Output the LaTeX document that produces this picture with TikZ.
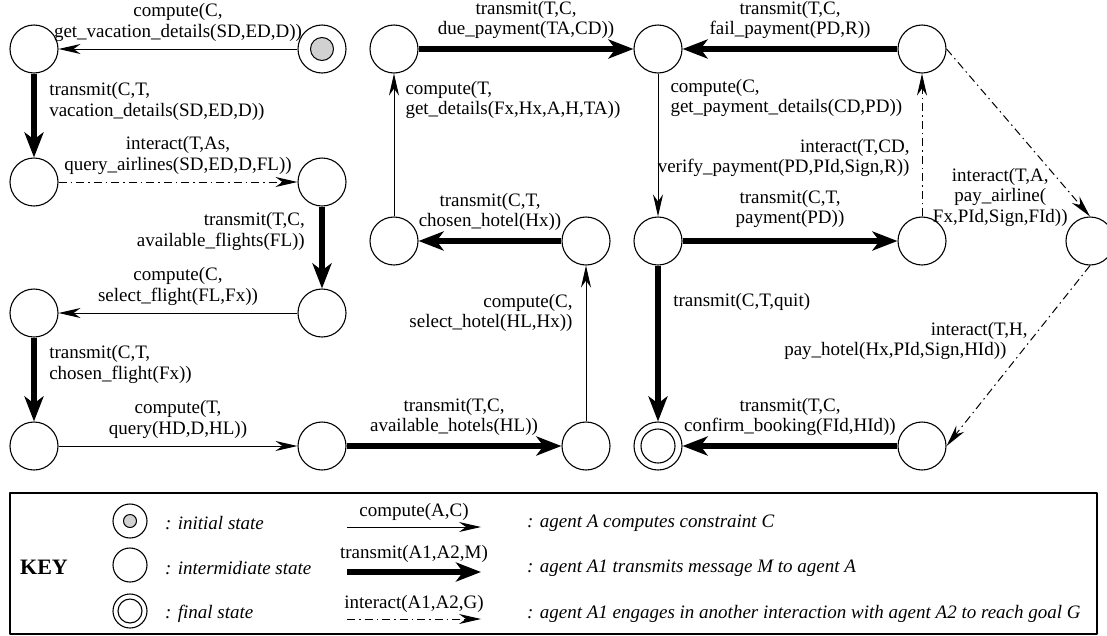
\documentclass[tikz,border=0pt]{standalone}
\usepackage{fontspec}
\setmainfont{Liberation Serif}
\usetikzlibrary{arrows.meta}
\begin{document}
\begin{tikzpicture}[x=1pt,y=-1pt,line join=round,
    font=\fontsize{19}{20.5}\selectfont,
    state/.style={draw,circle,minimum size=48pt,inner sep=0pt,line width=1.1pt},
    keystate/.style={state,minimum size=34pt},
    lbl/.style={inner sep=0pt,align=center},
    keytext/.style={anchor=west,inner sep=0pt,font=\fontsize{19}{20.5}\selectfont\itshape},
    comp/.style={line width=1pt,-{Stealth[length=22pt,width=10pt,inset=7pt]}},
    trans/.style={line width=6.5pt,-{Stealth[length=25pt,width=19pt,inset=7pt]}},
    inter/.style={line width=1pt,dash pattern=on 8pt off 4pt on 1.5pt off 4pt,
      -{Stealth[length=22pt,width=10pt,inset=7pt]}}]
\useasboundingbox (0,0) rectangle (1107,635);
% states
\node[state] (A0) at (34,49) {};
\node[state] (I) at (322,49) {};
\draw[fill=black!18,line width=1pt] (I) circle[radius=11.5pt];
\node[state] (A1) at (34,182) {};
\node[state] (A2) at (322,182) {};
\node[state] (B1) at (34,313) {};
\node[state] (B2) at (322,313) {};
\node[state] (C1) at (34,446) {};
\node[state] (C2) at (322,446) {};
\node[state] (C3) at (586,446) {};
\node[state] (H1) at (394,49) {};
\node[state] (H2) at (394,241) {};
\node[state] (H3) at (586,241) {};
\node[state] (P0) at (658,49) {};
\node[state] (F) at (922,49) {};
\node[state] (P1) at (658,241) {};
\node[state] (P2) at (922,241) {};
\node[state] (AIR) at (1090,241) {};
\node[state] (HOT) at (922,446) {};
\node[state] (FIN) at (658,446) {};
\draw[line width=1.1pt] (FIN) circle[radius=17pt];
% flights
\draw[comp] (I) -- (A0) node[lbl,midway,above=7pt] {compute(C,\\get\_vacation\_details(SD,ED,D))};
\draw[trans] (A0) -- (A1) node[lbl,align=left,pos=0,anchor=north west,xshift=12pt,yshift=-6pt] {transmit(C,T,\\vacation\_details(SD,ED,D))};
\draw[inter] (A1) -- (A2) node[lbl,midway,above=7pt] {interact(T,As,\\query\_airlines(SD,ED,D,FL))};
\draw[trans] (A2) -- (B2) node[lbl,align=right,pos=0,anchor=north east,xshift=-14pt,yshift=-3pt] {transmit(T,C,\\available\_flights(FL))};
\draw[comp] (B2) -- (B1) node[lbl,midway,above=7pt] {compute(C,\\select\_flight(FL,Fx))};
\draw[trans] (B1) -- (C1) node[lbl,align=left,pos=0,anchor=north west,xshift=12pt,yshift=-5pt] {transmit(C,T,\\chosen\_flight(Fx))};
\draw[comp] (C1) -- (C2) node[lbl,midway,above=7pt] {compute(T,\\query(HD,D,HL))};
% hotels
\draw[trans] (C2) -- (C3) node[lbl,midway,above=7pt] {transmit(T,C,\\available\_hotels(HL))};
\draw[comp] (C3) -- (H3) node[lbl,align=right,pos=1,anchor=north east,xshift=-13pt,yshift=-28pt] {compute(C,\\select\_hotel(HL,Hx))};
\draw[trans] (H3) -- (H2) node[lbl,midway,above=7pt] {transmit(C,T,\\chosen\_hotel(Hx))};
\draw[comp] (H2) -- (H1) node[lbl,align=left,pos=1,anchor=north west,xshift=11pt,yshift=-7pt] {compute(T,\\get\_details(Fx,Hx,A,H,TA))};
% payment
\draw[trans] (H1) -- (P0) node[lbl,midway,above=7pt] {transmit(T,C,\\due\_payment(TA,CD))};
\draw[comp] (P0) -- (P1) node[lbl,align=left,pos=0,anchor=north west,xshift=12pt,yshift=-5pt] {compute(C,\\get\_payment\_details(CD,PD))};
\draw[trans] (P1) -- (P2) node[lbl,midway,above=10pt] {transmit(C,T,\\payment(PD))};
\draw[inter] (P2) -- (F) node[lbl,align=right,pos=1,anchor=north east,xshift=-12pt,yshift=-65pt] {interact(T,CD,\\verify\_payment(PD,PId,Sign,R))};
\draw[trans] (F) -- (P0) node[lbl,midway,above=7pt] {transmit(T,C,\\fail\_payment(PD,R))};
\draw[inter] (F.east) -- (AIR.north) node[lbl,pos=0.5,anchor=north,xshift=-18pt,yshift=-35pt] {interact(T,A,\\pay\_airline(\\Fx,PId,Sign,FId))};
\draw[inter] (AIR.south) -- (HOT.east) node[lbl,align=right,pos=0.3,anchor=north east,xshift=-19pt,yshift=-2pt] {interact(T,H,\\pay\_hotel(Hx,PId,Sign,HId))\hspace*{21pt}};
\draw[trans] (HOT) -- (FIN) node[lbl,midway,above=7pt] {transmit(T,C,\\confirm\_booking(FId,HId))};
\draw[trans] (P1) -- (FIN) node[lbl,align=left,pos=0,anchor=north west,xshift=12pt,yshift=-25pt] {transmit(C,T,quit)};
% key
\draw[line width=1.2pt] (10,493) rectangle (1097,634);
\node[font=\fontsize{22}{22}\selectfont\bfseries] (key) at (44,567) {KEY};
\node[keystate] (kI) at (130,521) {};
\draw[fill=black!18,line width=1pt] (kI) circle[radius=6.5pt];
\node[keystate] (kS) at (130,565) {};
\node[keystate] (kF) at (130,611) {};
\draw[line width=1.1pt] (kF) circle[radius=12pt];
\node[keytext] (tI) at (165,523) {: initial state};
\node[keytext] (tS) at (165,568) {: intermidiate state};
\node[keytext] (tF) at (165,614) {: final state};
\coordinate (c1) at (347,527); \coordinate (c2) at (481,527);
\coordinate (t1) at (347,572); \coordinate (t2) at (481,572);
\coordinate (i1) at (347,619); \coordinate (i2) at (481,619);
\draw[comp] (c1) -- (c2) node[lbl,midway,above=6pt] {compute(A,C)};
\draw[trans] (t1) -- (t2) node[lbl,midway,above=6pt] {transmit(A1,A2,M)};
\draw[inter] (i1) -- (i2) node[lbl,midway,above=6pt] {interact(A1,A2,G)};
\node[keytext] (dC) at (527,523) {: agent A computes constraint C};
\node[keytext] (dT) at (527,568) {: agent A1 transmits message M to agent A};
\node[keytext] (dI) at (527,614) {: agent A1 engages in another interaction with agent A2 to reach goal G};
\end{tikzpicture}
\end{document}
